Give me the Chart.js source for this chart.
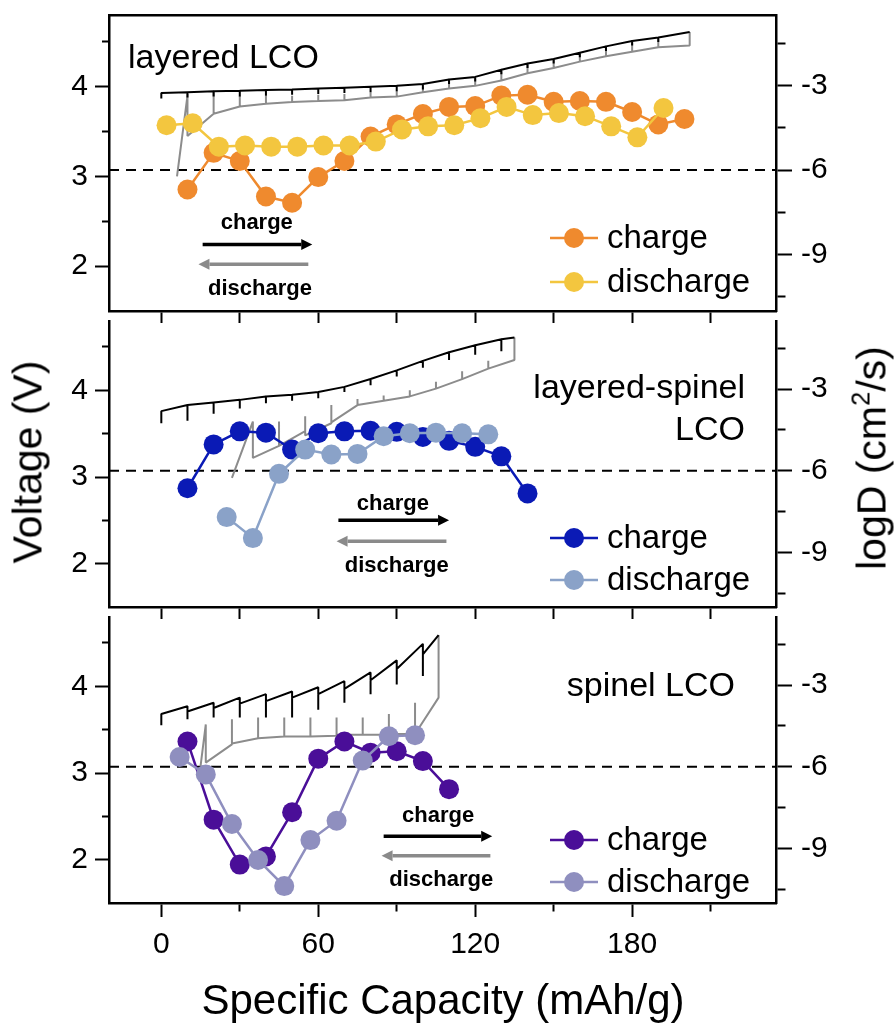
<!DOCTYPE html>
<html>
<head>
<meta charset="utf-8">
<script src="https://cdn.jsdelivr.net/npm/chart.js@4.4.0/dist/chart.umd.min.js"></script>
<style>
  body { margin: 0; background: #fff; }
  #wrap { position: relative; width: 896px; height: 1030px; overflow: hidden; font-family: 'Liberation Sans', Arial, sans-serif; color: #000; }
  #wrap canvas { position: absolute; left: 0; }
  .title { position: absolute; white-space: nowrap; transform: translate(-50%, -50%); }
  .rot { transform: translate(-50%, -50%) rotate(-90deg); }
  sup { font-size: 0.62em; vertical-align: 0.62em; line-height: 0; }
</style>
</head>
<body>
<div id="wrap">
  <canvas id="c1" width="896" height="325" style="top:0px"></canvas>
  <canvas id="c2" width="896" height="310" style="top:311px"></canvas>
  <canvas id="c3" width="896" height="423" style="top:607px"></canvas>
  <div class="title rot" style="left:28px;top:462px;font-size:41px">Voltage (V)</div>
  <div class="title rot" style="left:872px;top:458px;font-size:41px">logD (cm<sup>2</sup>/s)</div>
  <div class="title" style="left:443px;top:1000px;font-size:42px">Specific Capacity (mAh/g)</div>
</div>
<script>
// axes
const capMin = -20, capMax = 235;
const capTicks = [0, 60, 120, 180];
const capMinorTicks = [0, 30, 60, 90, 120, 150, 180, 210];
const voltMin = 1.5, voltMax = 4.8;
const voltTicks = [2, 3, 4];
const voltMinorTicks = [2, 2.5, 3, 3.5, 4, 4.5];
const logDMin = -11, logDMax = -0.5;
const logDTicks = [-3, -6, -9];
const logDMinorTicks = [-10.5, -9, -7.5, -6, -4.5, -3, -1.5];
const logDRef = -6;

// layered LCO - diffusion coefficients
const lcoChgCap = [10, 20, 30, 40, 50, 60, 70, 80, 90, 100, 110, 120, 130, 140, 150, 160, 170, 180, 190, 200];
const lcoChgLogD = [-6.69, -5.39, -5.68, -6.94, -7.16, -6.25, -5.68, -4.81, -4.38, -4.01, -3.76, -3.73, -3.36, -3.33, -3.58, -3.55, -3.58, -3.94, -4.38, -4.19];
const lcoDisCap = [2, 12, 22, 32, 42, 52, 62, 72, 82, 92, 102, 112, 122, 132, 142, 152, 162, 172, 182, 192];
const lcoDisLogD = [-4.41, -4.34, -5.17, -5.13, -5.17, -5.17, -5.13, -5.13, -4.99, -4.56, -4.45, -4.41, -4.16, -3.76, -4.05, -3.98, -4.09, -4.45, -4.84, -3.80];
// layered LCO - GITT voltage steps
const lcoGcCap = [0, 10, 20, 30, 40, 50, 60, 70, 80, 90, 100, 110, 120, 130, 140, 150, 160, 170, 180, 190, 202];
const lcoGcHi = [3.87, 3.94, 3.95, 3.955, 3.965, 3.97, 3.98, 3.99, 4.00, 4.01, 4.03, 4.08, 4.11, 4.19, 4.26, 4.31, 4.38, 4.45, 4.51, 4.55, 4.61];
const lcoGcLo = [3.87, 3.88, 3.89, 3.89, 3.90, 3.91, 3.92, 3.93, 3.94, 3.95, 3.97, 4.03, 4.06, 4.14, 4.21, 4.26, 4.33, 4.40, 4.46, 4.50, 4.61];
const lcoGcSt = [3.93, 3.94, 3.95, 3.955, 3.965, 3.97, 3.98, 3.99, 4.00, 4.01, 4.03, 4.08, 4.11, 4.19, 4.26, 4.31, 4.38, 4.45, 4.51, 4.55, 4.61];
const lcoGdCap = [6, 10, 20, 30, 40, 50, 60, 70, 80, 90, 100, 110, 120, 130, 140, 150, 160, 170, 180, 190, 202];
const lcoGdSt = [3.00, 3.90, 3.70, 3.78, 3.81, 3.83, 3.84, 3.85, 3.88, 3.89, 3.94, 3.98, 4.01, 4.07, 4.15, 4.21, 4.28, 4.34, 4.39, 4.44, 4.46];
const lcoGdHi = [3.00, 3.92, 3.94, 3.90, 3.90, 3.90, 3.91, 3.92, 3.94, 3.955, 4.00, 4.06, 4.09, 4.17, 4.25, 4.31, 4.38, 4.45, 4.49, 4.53, 4.61];
const lcoGdLo = [3.00, 3.45, 3.70, 3.78, 3.81, 3.83, 3.84, 3.85, 3.88, 3.89, 3.94, 3.98, 4.01, 4.07, 4.15, 4.21, 4.28, 4.34, 4.39, 4.44, 4.61];

// layered-spinel LCO
const lsChgCap = [10, 20, 30, 40, 50, 60, 70, 80, 90, 100, 110, 120, 130, 140];
const lsChgLogD = [-6.64, -5.03, -4.55, -4.60, -5.22, -4.62, -4.55, -4.53, -4.57, -4.76, -4.90, -5.12, -5.47, -6.83];
const lsDisCap = [25, 35, 45, 55, 65, 75, 85, 95, 105, 115, 125];
const lsDisLogD = [-7.70, -8.47, -6.11, -5.22, -5.40, -5.38, -4.73, -4.62, -4.60, -4.62, -4.66];
const lsGcCap = [0, 10, 20, 30, 40, 50, 60, 70, 80, 90, 100, 110, 120, 130, 135];
const lsGcHi = [3.62, 3.83, 3.86, 3.89, 3.93, 3.95, 3.98, 4.04, 4.13, 4.23, 4.34, 4.44, 4.52, 4.59, 4.61];
const lsGcLo = [3.62, 3.65, 3.73, 3.79, 3.85, 3.88, 3.91, 3.98, 4.06, 4.16, 4.26, 4.35, 4.41, 4.45, 4.61];
const lsGcSt = [3.76, 3.83, 3.86, 3.89, 3.93, 3.95, 3.98, 4.04, 4.13, 4.23, 4.34, 4.44, 4.52, 4.59, 4.61];
const lsGdCap = [27, 35, 45, 55, 65, 75, 85, 95, 105, 115, 125, 135];
const lsGdSt = [2.99, 3.64, 3.36, 3.53, 3.62, 3.83, 3.88, 3.93, 4.02, 4.13, 4.25, 4.35];
const lsGdHi = [2.99, 3.64, 3.64, 3.70, 3.83, 3.90, 3.94, 4.00, 4.10, 4.22, 4.34, 4.61];
const lsGdLo = [2.99, 3.22, 3.36, 3.48, 3.63, 3.83, 3.88, 3.93, 4.02, 4.13, 4.25, 4.61];

// spinel LCO
const spChgCap = [10, 20, 30, 40, 50, 60, 70, 80, 90, 100, 110];
const spChgLogD = [-5.07, -7.94, -9.59, -9.29, -7.67, -5.70, -5.07, -5.48, -5.43, -5.79, -6.82];
const spDisCap = [7, 17, 27, 37, 47, 57, 67, 77, 87, 97];
const spDisLogD = [-5.64, -6.28, -8.10, -9.42, -10.38, -8.69, -7.98, -5.77, -4.88, -4.84];
const spGcCap = [0, 10, 20, 30, 40, 50, 60, 70, 80, 90, 100, 106];
const spGcHi = [3.55, 3.77, 3.81, 3.87, 3.91, 3.94, 3.99, 4.06, 4.16, 4.30, 4.49, 4.59];
const spGcLo = [3.55, 3.62, 3.64, 3.64, 3.64, 3.64, 3.73, 3.81, 3.91, 4.02, 4.12, 4.59];
const spGcSt = [3.68, 3.71, 3.75, 3.80, 3.83, 3.87, 3.91, 3.97, 4.07, 4.20, 4.37, 4.59];
const spGdCap = [15, 17, 27, 37, 47, 57, 67, 77, 87, 97, 106];
const spGdSt = [3.08, 3.56, 3.33, 3.40, 3.42, 3.42, 3.43, 3.44, 3.44, 3.45, 3.87];
const spGdHi = [3.08, 3.56, 3.62, 3.64, 3.64, 3.64, 3.64, 3.64, 3.68, 3.81, 4.59];
const spGdLo = [3.08, 3.12, 3.34, 3.40, 3.42, 3.42, 3.44, 3.44, 3.45, 3.45, 4.59];

const FONT = "'Liberation Sans', Arial, sans-serif";
Chart.defaults.font.family = FONT;
Chart.defaults.color = '#000';

const pairs = (xs, ys) => xs.map((x, i) => ({ x: x, y: ys[i] }));

// charge: pulse ends high, relaxes down, next pulse starts
function chargePath(cap, hi, lo, st) {
  const pts = [];
  cap.forEach((c, i) => { pts.push({ x: c, y: hi[i] }, { x: c, y: lo[i] }, { x: c, y: st[i] }); });
  return pts;
}
// discharge drawn left to right: pulse start, relaxation spike, pulse end
function dischargePath(cap, st, hi, lo) {
  const pts = [];
  cap.forEach((c, i) => { pts.push({ x: c, y: st[i] }, { x: c, y: hi[i] }, { x: c, y: lo[i] }); });
  return pts;
}

function arrow(ctx, x1, x2, y, color) {
  const dir = Math.sign(x2 - x1), head = 11;
  ctx.strokeStyle = color; ctx.fillStyle = color; ctx.lineWidth = 3.5;
  ctx.beginPath(); ctx.moveTo(x1, y); ctx.lineTo(x2 - dir * head, y); ctx.stroke();
  ctx.beginPath(); ctx.moveTo(x2, y); ctx.lineTo(x2 - dir * head, y - 5.5); ctx.lineTo(x2 - dir * head, y + 5.5); ctx.closePath(); ctx.fill();
}

const deco = {
  id: 'deco',
  afterDatasetsDraw(chart, args, o) {
    const { ctx, chartArea: a, scales } = chart;
    const sx = scales.x, sv = scales.v;
    ctx.save();
    ctx.fillStyle = '#000';
    ctx.font = '34px ' + FONT;
    ctx.textBaseline = 'alphabetic';
    o.labels.forEach(l => { ctx.textAlign = l.align; ctx.fillText(l.text, l.x, a.top + l.y); });

    const ar = o.arrows;
    arrow(ctx, sx.getPixelForValue(ar.chg[0]), sx.getPixelForValue(ar.chg[1]), sv.getPixelForValue(ar.chg[2]), '#000');
    arrow(ctx, sx.getPixelForValue(ar.dis[0]), sx.getPixelForValue(ar.dis[1]), sv.getPixelForValue(ar.dis[2]), '#8a8a8a');
    ctx.fillStyle = '#000';
    ctx.font = 'bold 22px ' + FONT;
    ctx.textAlign = 'center'; ctx.textBaseline = 'middle';
    ctx.fillText('charge', sx.getPixelForValue(ar.chgText[0]), sv.getPixelForValue(ar.chgText[1]));
    ctx.fillText('discharge', sx.getPixelForValue(ar.disText[0]), sv.getPixelForValue(ar.disText[1]));

    // legend
    ctx.font = '33px ' + FONT;
    ctx.textAlign = 'left';
    const ds = chart.data.datasets;
    [[ds[1], o.legendRows[0]], [ds[0], o.legendRows[1]]].forEach(([d, ry]) => {
      const y = a.top + ry;
      ctx.strokeStyle = d.borderColor; ctx.lineWidth = 2.5;
      ctx.beginPath(); ctx.moveTo(550, y); ctx.lineTo(598, y); ctx.stroke();
      ctx.fillStyle = d.borderColor;
      ctx.beginPath(); ctx.arc(574, y, 10, 0, Math.PI * 2); ctx.fill();
      ctx.fillStyle = '#000';
      ctx.fillText(d.label, 607, y + 1);
    });
    ctx.restore();
  }
};

// keep label overflow from moving the plot frame
function noPad(s) { s.paddingTop = 0; s.paddingBottom = 0; s.paddingLeft = 0; s.paddingRight = 0; }

function makePanel(id, p) {
  const minorDash = (vals, dash) => c => (c.tick && !vals.includes(c.tick.value)) ? dash : [];
  const scales = {
    x: {
      type: 'linear', position: 'bottom', min: capMin, max: capMax,
      afterBuildTicks: s => { s.ticks = capMinorTicks.map(v => ({ value: v })); },
      ticks: { display: p.bottom, autoSkip: false, maxRotation: 0, padding: 10, color: '#000',
        font: { size: 30 }, callback: v => capTicks.includes(v) ? String(v) : '' },
      grid: { drawOnChartArea: false, drawTicks: true, tickLength: p.bottom ? 14 : 12, tickWidth: 2, tickColor: '#000',
        tickBorderDash: p.bottom ? minorDash(capTicks, [7, 100]) : [] },
      border: { display: true, color: '#000', width: 2.5 },
      afterFit: s => { s.height = p.bottom ? 127 : 14; noPad(s); }
    },
    v: {
      type: 'linear', position: 'left', min: voltMin, max: voltMax,
      afterBuildTicks: s => { s.ticks = voltMinorTicks.map(v => ({ value: v })); },
      ticks: { autoSkip: false, padding: 7, color: '#000', font: { size: 30 },
        callback: v => voltTicks.includes(v) ? String(v) : '' },
      grid: { drawOnChartArea: false, tickLength: 14, tickWidth: 2, tickColor: '#000',
        tickBorderDash: minorDash(voltTicks, [0, 7, 7, 100]) },
      border: { display: true, color: '#000', width: 2.5 },
      afterFit: s => { s.width = 109; noPad(s); }
    },
    d: {
      type: 'linear', position: 'right', min: logDMin, max: logDMax,
      afterBuildTicks: s => { s.ticks = logDMinorTicks.map(v => ({ value: v })); },
      ticks: { autoSkip: false, padding: 9, color: '#000', font: { size: 30 },
        callback: v => logDTicks.includes(v) ? String(v) : '' },
      grid: { drawOnChartArea: false, tickLength: 16, tickWidth: 2, tickColor: '#000',
        tickBorderDash: minorDash(logDTicks, [8, 100]) },
      border: { display: true, color: '#000', width: 2.5 },
      afterFit: s => { s.width = 120; noPad(s); }
    }
  };
  if (p.top) {
    scales.xt = {
      type: 'linear', position: 'top', min: capMin, max: capMax,
      ticks: { display: false }, grid: { display: false },
      border: { display: true, color: '#000', width: 2.5 },
      afterFit: s => { s.height = 0; noPad(s); }
    };
  }
  const pts = (label, xs, ys, color) => ({
    label: label, data: pairs(xs, ys), yAxisID: 'd', showLine: true,
    borderColor: color, backgroundColor: color, pointBackgroundColor: color,
    borderWidth: 2.5, pointRadius: 10, pointHoverRadius: 10, pointBorderWidth: 0
  });
  return new Chart(document.getElementById(id), {
    type: 'scatter',
    data: {
      datasets: [
        pts('discharge', p.disCap, p.disLogD, p.disColor),
        pts('charge', p.chgCap, p.chgLogD, p.chgColor),
        { label: 'GITT charge', data: chargePath(p.gc[0], p.gc[1], p.gc[2], p.gc[3]), yAxisID: 'v', showLine: true,
          borderColor: '#000', borderWidth: 2, borderJoinStyle: 'bevel', pointRadius: 0 },
        { label: 'GITT discharge', data: dischargePath(p.gd[0], p.gd[1], p.gd[2], p.gd[3]), yAxisID: 'v', showLine: true,
          borderColor: '#8c8c8c', borderWidth: 2, borderJoinStyle: 'bevel', pointRadius: 0 },
        { label: 'ref', data: [{ x: capMin, y: logDRef }, { x: capMax, y: logDRef }], yAxisID: 'd', showLine: true,
          borderColor: '#000', borderWidth: 2, borderDash: [10, 7], pointRadius: 0 }
      ]
    },
    options: {
      responsive: false, animation: false, events: [],
      layout: { padding: { top: p.top ? 15 : 0, left: 0, right: 0, bottom: 0 } },
      scales: scales,
      plugins: { legend: { display: false }, tooltip: { enabled: false }, deco: p.deco }
    },
    plugins: [deco]
  });
}

makePanel('c1', {
  top: true, bottom: false,
  chgCap: lcoChgCap, chgLogD: lcoChgLogD, chgColor: '#ef8a2e',
  disCap: lcoDisCap, disLogD: lcoDisLogD, disColor: '#f3c63f',
  gc: [lcoGcCap, lcoGcHi, lcoGcLo, lcoGcSt],
  gd: [lcoGdCap, lcoGdSt, lcoGdHi, lcoGdLo],
  deco: {
    labels: [{ text: 'layered LCO', x: 128, y: 53, align: 'left' }],
    arrows: { chg: [15.8, 57.7, 2.24], dis: [56.2, 14.2, 2.02], chgText: [36.5, 2.48], disText: [37.7, 1.75] },
    legendRows: [223, 267]
  }
});

makePanel('c2', {
  top: false, bottom: false,
  chgCap: lsChgCap, chgLogD: lsChgLogD, chgColor: '#0a1ab5',
  disCap: lsDisCap, disLogD: lsDisLogD, disColor: '#8aa2c8',
  gc: [lsGcCap, lsGcHi, lsGcLo, lsGcSt],
  gd: [lsGdCap, lsGdSt, lsGdHi, lsGdLo],
  deco: {
    labels: [{ text: 'layered-spinel', x: 745, y: 77, align: 'right' }, { text: 'LCO', x: 745, y: 119, align: 'right' }],
    arrows: { chg: [67.7, 110, 2.50], dis: [109, 67, 2.26], chgText: [88.5, 2.69], disText: [90, 1.97] },
    legendRows: [217, 259]
  }
});

makePanel('c3', {
  top: false, bottom: true,
  chgCap: spChgCap, chgLogD: spChgLogD, chgColor: '#4a0e98',
  disCap: spDisCap, disLogD: spDisLogD, disColor: '#8f8fbf',
  gc: [spGcCap, spGcHi, spGcLo, spGcSt],
  gd: [spGdCap, spGdSt, spGdHi, spGdLo],
  deco: {
    labels: [{ text: 'spinel LCO', x: 735, y: 79, align: 'right' }],
    arrows: { chg: [85, 126.5, 2.27], dis: [125.8, 84.2, 2.045], chgText: [105.8, 2.50], disText: [107, 1.77] },
    legendRows: [223, 265]
  }
});
</script>
</body>
</html>
